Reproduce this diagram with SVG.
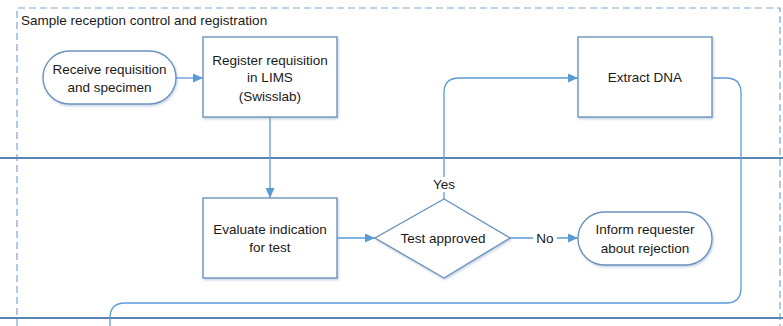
<svg xmlns="http://www.w3.org/2000/svg" width="783" height="326" viewBox="0 0 783 326">
<style>
  text { font-family: "Liberation Sans", Arial, sans-serif; font-size: 13.5px; fill: #1a1a1a; text-anchor: middle; dominant-baseline: central; }
  .title { text-anchor: start; }
  .node { fill: #ffffff; stroke: #6e93bd; stroke-width: 1.4; filter: url(#sh); }
  .conn { fill: none; stroke: #5b9bd5; stroke-width: 1.3; }
  .lane { stroke: #5a84b3; stroke-width: 2; }
  .lbl { fill: #ffffff; stroke: none; }
</style>
<defs>
  <filter id="sh" x="-10%" y="-10%" width="130%" height="130%">
    <feDropShadow dx="1" dy="1.5" stdDeviation="1.2" flood-color="#7f9cbf" flood-opacity="0.45"/>
  </filter>
  <marker id="ah" markerWidth="10" markerHeight="9" refX="10" refY="4.5" orient="auto" markerUnits="userSpaceOnUse">
    <path d="M0,0 L10,4.5 L0,9 Z" fill="#5b9bd5"/>
  </marker>
</defs>
<rect width="783" height="326" fill="#ffffff"/>

<g id="pool">
  <path d="M17,326 V8 H780 V326" fill="none" stroke="#7ea6d4" stroke-width="1.2" stroke-dasharray="7 4"/>
  <text class="title" x="21" y="20">Sample reception control and registration</text>
  <line class="lane" x1="0" y1="158" x2="783" y2="158"/>
  <line class="lane" x1="0" y1="318" x2="783" y2="318"/>
</g>

<g id="connectors">
  <line class="conn" x1="176" y1="78" x2="203" y2="78" marker-end="url(#ah)"/>
  <line class="conn" x1="270" y1="117" x2="270" y2="198" marker-end="url(#ah)"/>
  <line class="conn" x1="337" y1="238" x2="375" y2="238" marker-end="url(#ah)"/>
  <line class="conn" x1="510" y1="238" x2="578" y2="238" marker-end="url(#ah)"/>
  <path class="conn" d="M444,199 V93 Q444,78 459,78 H578" marker-end="url(#ah)"/>
  <path class="conn" d="M712,78 H726 Q741,78 741,93 V288 Q741,303 726,303 H125 Q110,303 110,318 V326"/>
  <rect class="lbl" x="431" y="177" width="26" height="15"/>
  <text x="444" y="184">Yes</text>
  <rect class="lbl" x="533" y="231" width="24" height="15"/>
  <text x="545" y="238">No</text>
</g>

<g id="receive">
  <rect class="node" x="43" y="51" width="133" height="53" rx="26.5"/>
  <text x="109.5" y="69">Receive requisition</text>
  <text x="109.5" y="87">and specimen</text>
</g>

<g id="register">
  <rect class="node" x="203" y="37" width="134" height="80"/>
  <text x="270" y="60">Register requisition</text>
  <text x="270" y="77">in LIMS</text>
  <text x="270" y="96">(Swisslab)</text>
</g>

<g id="extract">
  <rect class="node" x="578" y="37" width="134" height="80"/>
  <text x="645" y="77">Extract DNA</text>
</g>

<g id="evaluate">
  <rect class="node" x="203" y="198" width="134" height="80"/>
  <text x="270" y="229">Evaluate indication</text>
  <text x="270" y="247">for test</text>
</g>

<g id="decision">
  <polygon class="node" points="444,199 510,238 444,278 375,238"/>
  <text x="443" y="238">Test approved</text>
</g>

<g id="inform">
  <rect class="node" x="578" y="212" width="134" height="53" rx="26.5"/>
  <text x="645" y="229">Inform requester</text>
  <text x="645" y="248">about rejection</text>
</g>
</svg>
